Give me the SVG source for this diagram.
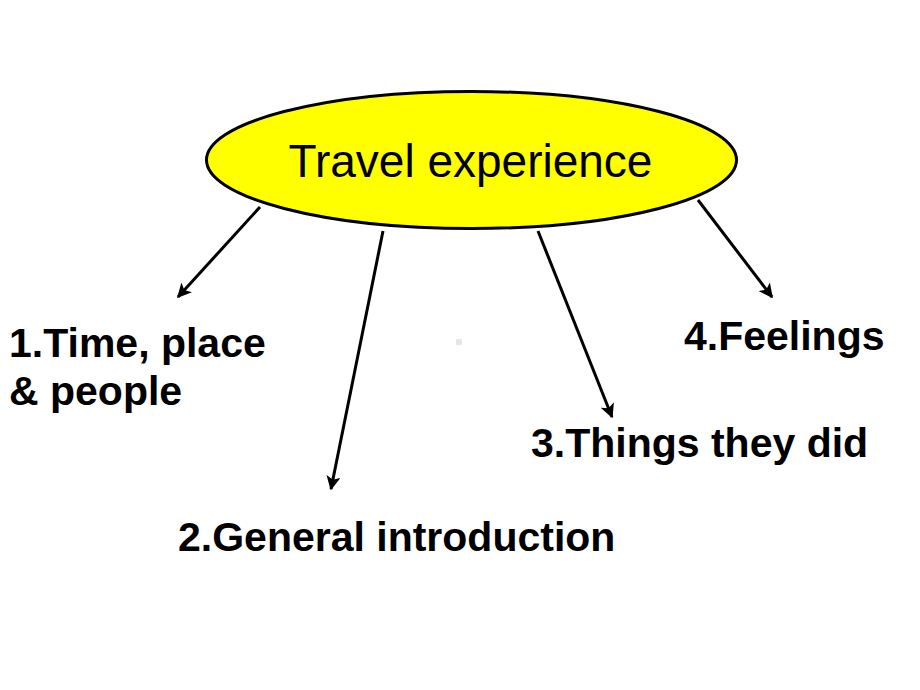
<svg xmlns="http://www.w3.org/2000/svg" width="920" height="690" viewBox="0 0 920 690">
<defs>
<marker id="ah" viewBox="0 0 10 10" refX="9" refY="5" markerWidth="4.8" markerHeight="4.8" orient="auto" markerUnits="strokeWidth">
<path d="M0,0 L10,5 L0,10 L2.5,5 Z" fill="#000"/>
</marker>
<style>
.lbl{font-family:"Liberation Sans",Arial,sans-serif;font-weight:bold;font-size:41px;fill:#000}
.edge{stroke:#000;stroke-width:3;fill:none;marker-end:url(#ah)}
</style>
</defs>
<rect width="920" height="690" fill="#fff"/>
<rect x="456" y="339" width="6" height="6" fill="#e6e6e6"/>
<g id="connectors">
<line class="edge" x1="260" y1="207" x2="178" y2="297"/>
<line class="edge" x1="383" y1="231" x2="331" y2="489"/>
<line class="edge" x1="538" y1="231" x2="612" y2="417"/>
<line class="edge" x1="698" y1="200" x2="772" y2="297"/>
</g>
<g id="center">
<ellipse cx="471.5" cy="160" rx="265" ry="68.5" fill="#ffff00" stroke="#000" stroke-width="3"/>
<text x="470.5" y="177" text-anchor="middle" font-family="Liberation Sans, Arial, sans-serif" font-size="46">Travel experience</text>
</g>
<g id="n1"><text class="lbl" x="9" y="357">1.Time, place</text><text class="lbl" x="9" y="405">&amp; people</text></g>
<g id="n2"><text class="lbl" x="178" y="551">2.General introduction</text></g>
<g id="n3"><text class="lbl" x="531" y="457">3.Things they did</text></g>
<g id="n4"><text class="lbl" x="684" y="350">4.Feelings</text></g>
</svg>
